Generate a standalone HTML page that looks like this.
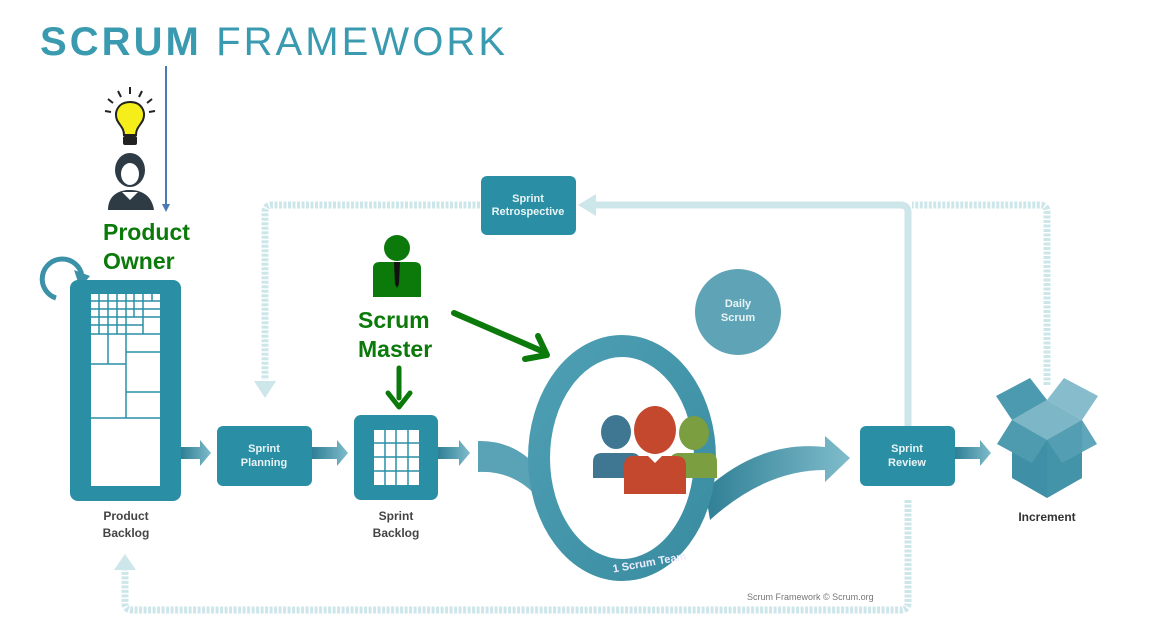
<!DOCTYPE html>
<html><head><meta charset="utf-8"><style>
html,body{margin:0;padding:0;background:#fff;}
svg{display:block;font-family:"Liberation Sans",sans-serif;}
</style></head><body>
<svg width="1150" height="618" viewBox="0 0 1150 618">
<defs>
<linearGradient id="ag" x1="0" x2="1"><stop offset="0" stop-color="#2f7f95"/><stop offset="1" stop-color="#7fbccb"/></linearGradient>
<linearGradient id="ring" x1="0" y1="0" x2="1" y2="1"><stop offset="0" stop-color="#4e9fb3"/><stop offset="1" stop-color="#3a8ca1"/></linearGradient>
</defs>
<text x="40" y="55" font-size="40" fill="#3a9bb0" font-weight="bold" textLength="465" lengthAdjust="spacing">SCRUM <tspan font-weight="normal">FRAMEWORK</tspan></text>
<!-- blue line -->
<line x1="166" y1="66" x2="166" y2="208" stroke="#4a7ab5" stroke-width="2"/>
<path d="M162 204 L166 212 L170 204 Z" fill="#4a7ab5"/>
<!-- bulb -->
<g stroke="#222" stroke-width="2">
<line x1="130" y1="87" x2="130" y2="94"/><line x1="118" y1="91" x2="121" y2="97"/><line x1="142" y1="91" x2="139" y2="97"/>
<line x1="108" y1="99" x2="113" y2="103"/><line x1="152" y1="99" x2="147" y2="103"/><line x1="105" y1="111" x2="111" y2="112"/><line x1="155" y1="111" x2="149" y2="112"/>
</g>
<path d="M130 102 C118 102 114 112 117 120 C120 126 124 128 124 135 L136 135 C136 128 140 126 143 120 C146 112 142 102 130 102 Z" fill="#f5ee1b" stroke="#222" stroke-width="2"/>
<rect x="123" y="136" width="14" height="9" rx="2" fill="#222"/>
<!-- woman -->
<ellipse cx="130" cy="170" rx="15" ry="17" fill="#2e3b45"/>
<ellipse cx="130" cy="174" rx="9" ry="11" fill="#fff"/>
<path d="M108 210 C108 196 118 190 130 190 C142 190 152 196 154 210 Z" fill="#2e3b45"/>
<path d="M122 192 L130 200 L138 192 Z" fill="#fff"/>
<text x="103" y="240" font-size="23" font-weight="bold" fill="#0b7a0b">Product</text>
<text x="103" y="269" font-size="23" font-weight="bold" fill="#0b7a0b">Owner</text>
<!-- rotate arrow -->
<path d="M56 298 A20 20 0 1 1 82 276" fill="none" stroke="#3a91a8" stroke-width="5"/>
<path d="M74 270 L90 276 L80 288 Z" fill="#3a91a8"/>
<!-- product backlog -->
<rect x="70" y="280" width="111" height="221" rx="8" fill="#2a8fa5"/>
<rect x="91" y="294" width="69" height="192" fill="#fff"/>
<g stroke="#2a8fa5" stroke-width="1.5">
<line x1="91" y1="301" x2="160" y2="301"/><line x1="91" y1="309" x2="160" y2="309"/><line x1="91" y1="317" x2="160" y2="317"/><line x1="91" y1="325" x2="143" y2="325"/><line x1="91" y1="334" x2="160" y2="334"/>
<line x1="99" y1="294" x2="99" y2="334"/><line x1="108" y1="294" x2="108" y2="364"/><line x1="117" y1="294" x2="117" y2="334"/><line x1="126" y1="294" x2="126" y2="418"/><line x1="134" y1="294" x2="134" y2="317"/><line x1="143" y1="294" x2="143" y2="334"/><line x1="152" y1="294" x2="152" y2="301"/>
<line x1="126" y1="352" x2="160" y2="352"/><line x1="91" y1="364" x2="126" y2="364"/><line x1="126" y1="392" x2="160" y2="392"/><line x1="91" y1="418" x2="160" y2="418"/>
</g>
<text x="126" y="520" font-size="12" font-weight="bold" fill="#444" text-anchor="middle">Product</text>
<text x="126" y="537" font-size="12" font-weight="bold" fill="#444" text-anchor="middle">Backlog</text>
<!-- small arrows -->
<g fill="url(#ag)">
<path d="M181 447 L200 447 L200 440 L211 453 L200 466 L200 459 L181 459 Z"/>
<path d="M312 447 L337 447 L337 440 L348 453 L337 466 L337 459 L312 459 Z"/>
<path d="M438 447 L459 447 L459 440 L470 453 L459 466 L459 459 L438 459 Z"/>
<path d="M955 447 L980 447 L980 440 L991 453 L980 466 L980 459 L955 459 Z"/>
</g>
<!-- feedback loops -->
<g fill="none" stroke="#cde6ea" stroke-width="7">
<path d="M908 426 L908 212 Q908 205 900 205 L592 205"/>
<path d="M1047 385 L1047 212 Q1047 205 1040 205 L912 205" stroke-dasharray="3 1.5"/>
<path d="M480 205 L272 205 Q265 205 265 212 L265 380" stroke-dasharray="3 1.5"/>
<path d="M908 500 L908 603 Q908 610 900 610 L132 610 Q125 610 125 603 L125 570" stroke-dasharray="3 1.5"/>
</g>
<g fill="#cde6ea">
<path d="M578 205 L596 194 L596 216 Z"/>
<path d="M265 398 L254 381 L276 381 Z"/>
<path d="M125 554 L114 570 L136 570 Z"/>
</g>
<!-- boxes -->
<rect x="217" y="426" width="95" height="60" rx="6" fill="#2a8fa5"/>
<text x="264" y="452" font-size="11" font-weight="bold" fill="#e8f4f6" text-anchor="middle">Sprint</text>
<text x="264" y="466" font-size="11" font-weight="bold" fill="#e8f4f6" text-anchor="middle">Planning</text>
<rect x="354" y="415" width="84" height="85" rx="7" fill="#2a8fa5"/>
<rect x="374" y="430" width="45" height="55" fill="#fff"/>
<g stroke="#2a8fa5" stroke-width="1.5">
<line x1="385" y1="430" x2="385" y2="485"/><line x1="396" y1="430" x2="396" y2="485"/><line x1="408" y1="430" x2="408" y2="485"/>
<line x1="374" y1="443" x2="419" y2="443"/><line x1="374" y1="457" x2="419" y2="457"/><line x1="374" y1="471" x2="419" y2="471"/>
</g>
<text x="396" y="520" font-size="12" font-weight="bold" fill="#444" text-anchor="middle">Sprint</text>
<text x="396" y="537" font-size="12" font-weight="bold" fill="#444" text-anchor="middle">Backlog</text>
<rect x="481" y="176" width="95" height="59" rx="6" fill="#2a8fa5"/>
<text x="528" y="202" font-size="11" font-weight="bold" fill="#e8f4f6" text-anchor="middle">Sprint</text>
<text x="528" y="215" font-size="11" font-weight="bold" fill="#e8f4f6" text-anchor="middle">Retrospective</text>
<rect x="860" y="426" width="95" height="60" rx="6" fill="#2a8fa5"/>
<text x="907" y="452" font-size="11" font-weight="bold" fill="#e8f4f6" text-anchor="middle">Sprint</text>
<text x="907" y="466" font-size="11" font-weight="bold" fill="#e8f4f6" text-anchor="middle">Review</text>
<!-- scrum master -->
<circle cx="397" cy="248" r="13" fill="#0b7a0b"/>
<path d="M373 297 L373 268 Q373 262 380 262 L414 262 Q421 262 421 268 L421 297 Z" fill="#0b7a0b"/>
<path d="M394 262 L400 262 L399 284 L397 288 L395 284 Z" fill="#111"/>
<text x="358" y="328" font-size="23" font-weight="bold" fill="#0b7a0b">Scrum</text>
<text x="358" y="357" font-size="23" font-weight="bold" fill="#0b7a0b">Master</text>
<line x1="399" y1="368" x2="399" y2="398" stroke="#0b7a0b" stroke-width="5" stroke-linecap="round"/>
<path d="M388 393 L399 407 L410 393" fill="none" stroke="#0b7a0b" stroke-width="5" stroke-linecap="round" stroke-linejoin="round"/>
<line x1="454" y1="313" x2="544" y2="352" stroke="#0b7a0b" stroke-width="6" stroke-linecap="round"/>
<path d="M525 359 L547 355 L538 336" fill="none" stroke="#0b7a0b" stroke-width="6" stroke-linecap="round" stroke-linejoin="round"/>
<!-- curved bands -->
<path d="M478 441 Q515 440 540 470 L540 500 Q515 470 478 472 Z" fill="#5aa2b5"/>
<path d="M705 490 Q760 440 825 447 L825 436 L850 458 L825 482 L825 470 Q765 470 710 520 Z" fill="url(#ag)"/>
<!-- big ring -->
<ellipse cx="622" cy="458" rx="83" ry="112" fill="#fff" stroke="url(#ring)" stroke-width="22"/>
<circle cx="738" cy="312" r="43" fill="#5fa4b6"/>
<text x="738" y="307" font-size="11" font-weight="bold" fill="#e8f4f6" text-anchor="middle">Daily</text>
<text x="738" y="321" font-size="11" font-weight="bold" fill="#e8f4f6" text-anchor="middle">Scrum</text>
<text x="650" y="566" font-size="11" font-weight="bold" fill="#eef" text-anchor="middle" transform="rotate(-10 650 566)">1 Scrum Team</text>
<!-- team -->
<ellipse cx="616" cy="432" rx="15" ry="17" fill="#3f7691"/>
<path d="M593 478 L593 462 Q593 453 602 453 L632 453 Q640 453 640 462 L640 478 Z" fill="#3f7691"/>
<ellipse cx="694" cy="433" rx="15" ry="17" fill="#7a9e40"/>
<path d="M670 478 L670 462 Q670 453 679 453 L709 453 Q717 453 717 462 L717 478 Z" fill="#7a9e40"/>
<ellipse cx="655" cy="430" rx="21" ry="24" fill="#c3482d"/>
<path d="M624 494 L624 466 Q624 456 634 456 L676 456 Q686 456 686 466 L686 494 Z" fill="#c3482d"/>
<path d="M648 456 L655 463 L662 456 Z" fill="#fff"/>
<!-- increment box -->
<path d="M1047 440 L1012 420 L1012 478 L1047 498 L1082 478 L1082 420 Z" fill="#3f90a6"/>
<path d="M1047 440 L1012 420 L1047 400 L1082 420 Z" fill="#7db6c6"/>
<path d="M1012 420 L996 396 L1030 378 L1047 400 Z" fill="#4b9ab0"/>
<path d="M1082 420 L1098 396 L1064 378 L1047 400 Z" fill="#86bccb"/>
<path d="M1012 420 L997 444 L1032 463 L1047 440 Z" fill="#4e9bb0"/>
<path d="M1082 420 L1097 444 L1062 463 L1047 440 Z" fill="#5fa6ba"/>
<path d="M1047 440 L1047 498 L1082 478 L1082 420 Z" fill="#4796ab" opacity="0.5"/>
<text x="1047" y="521" font-size="12" font-weight="bold" fill="#333" text-anchor="middle">Increment</text>
<text x="747" y="600" font-size="9" fill="#777">Scrum Framework © Scrum.org</text>
</svg>
</body></html>
